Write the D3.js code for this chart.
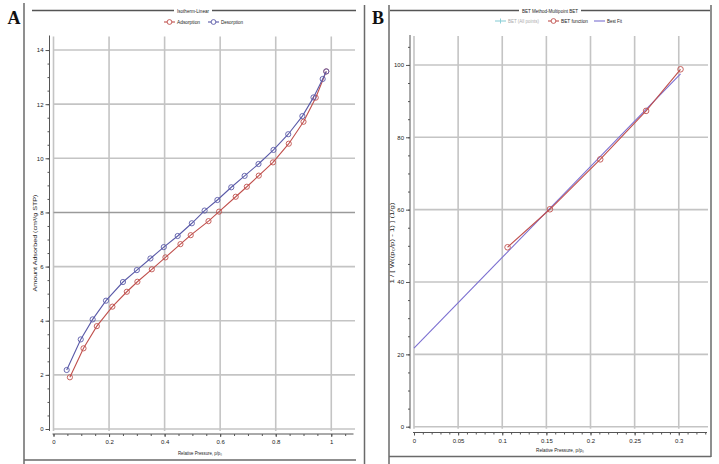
<!DOCTYPE html>
<html><head><meta charset="utf-8">
<script src="https://cdn.jsdelivr.net/npm/d3@7"></script>
<style>body{margin:0;background:#fff}svg{display:block}text{font-family:"Liberation Sans",Arial,sans-serif}</style>
</head><body><svg id="c" width="719" height="464"></svg>
<script>
// Panel A: isotherm
const adsP = [0.059,0.108,0.156,0.212,0.264,0.302,0.354,0.403,0.457,0.494,0.558,0.596,0.656,0.696,0.739,0.790,0.847,0.900,0.944,0.982];
const adsQ = [1.91,2.98,3.80,4.52,5.07,5.44,5.90,6.34,6.83,7.16,7.68,8.03,8.58,8.95,9.36,9.85,10.54,11.35,12.24,13.21];
const desP = [0.0475,0.098,0.141,0.189,0.250,0.300,0.349,0.397,0.447,0.498,0.544,0.590,0.640,0.688,0.738,0.792,0.845,0.896,0.936,0.969,0.982];
const desQ = [2.18,3.31,4.05,4.74,5.43,5.87,6.30,6.72,7.13,7.60,8.07,8.46,8.93,9.35,9.79,10.31,10.89,11.56,12.25,12.93,13.21];
const aXTicks = [0,0.2,0.4,0.6,0.8,1];
const aYTicks = [0,2,4,6,8,10,12,14];
// Panel B: BET
const betP = [0.106,0.154,0.211,0.263,0.302];
const betF = [49.6,60.1,73.9,87.3,98.8];
const fitP = [0,0.302];
const fitF = [21.7,97.5];
const bXTicks = [0,0.05,0.1,0.15,0.2,0.25,0.3];
const bYTicks = [0,20,40,60,80,100];

const svg = d3.select("#c");
svg.append("rect").attr("width",719).attr("height",464).attr("fill","#fff");
const RED="#c0504d", BLUE="#5a5aa8", FIT="#7b6fd0", GRID="#c4c4c4", FRAME="#6a6a6a";
const FONT="'Liberation Sans',Arial,sans-serif";

function line(x1,y1,x2,y2,c,w){svg.append("line").attr("x1",x1).attr("y1",y1).attr("x2",x2).attr("y2",y2).attr("stroke",c).attr("stroke-width",w);}
function txt(x,y,s,o={}){const t=svg.append("text").attr("x",x).attr("y",y).text(s).attr("font-size",o.size||6).attr("fill",o.fill||"#222").attr("text-anchor",o.anchor||"middle");if(o.weight)t.attr("font-weight",o.weight);t.style("font-family",o.family||FONT);if(o.len)t.attr("textLength",o.len).attr("lengthAdjust","spacingAndGlyphs");if(o.rot)t.attr("transform",`rotate(${o.rot},${x},${y})`);return t;}

// frames
line(24,3,24,464,FRAME,1.5);
line(24,460,356,460,FRAME,1.5);
line(364.5,5,364.5,464,FRAME,1.5);
line(389,5,389,464,FRAME,1.5);
line(389,456.5,711,456.5,FRAME,1.5);
line(711,5,711,457,FRAME,1.5);
txt(14,24,"A",{size:18,weight:"bold",family:"'Liberation Serif','Times New Roman',serif",fill:"#111"});
txt(378,24,"B",{size:18,weight:"bold",family:"'Liberation Serif','Times New Roman',serif",fill:"#111"});

function panel(cfg){
  const x=d3.scaleLinear().domain(cfg.xd).range(cfg.xr);
  const y=d3.scaleLinear().domain(cfg.yd).range(cfg.yr);
  // title bar
  txt(cfg.tx,12.5,cfg.title,{size:6,len:cfg.tw});
  line(cfg.tl,10.5,cfg.tx-cfg.tw/2-3,10.5,"#555",1.5);
  line(cfg.tx+cfg.tw/2+3,10.5,cfg.tr,10.5,"#555",1.5);
  // grid
  const g=svg.append("g");
  g.selectAll(".vg").data(cfg.xt).join("line").attr("x1",d=>x(d)).attr("x2",d=>x(d)).attr("y1",y.range()[1]).attr("y2",y(0)+2).attr("stroke",GRID).attr("stroke-width",1.6);
  g.selectAll(".hg").data(cfg.yt).join("line").attr("y1",d=>y(d)).attr("y2",d=>y(d)).attr("x1",x(0)).attr("x2",cfg.gr).attr("stroke",d=>d===cfg.dark?"#9a9a9a":GRID).attr("stroke-width",1.6);
  // y axis
  const ya=svg.append("g").attr("transform",`translate(${cfg.yax},0)`).call(d3.axisLeft(y).tickValues(d3.range(0,cfg.yd[1],cfg.ym)).tickSize(2).tickFormat(""));
  ya.select(".domain").remove();
  ya.selectAll("line").attr("stroke","#555");
  line(cfg.yax,y.range()[1]-1,cfg.yax,y(0)+2,"#555",1);
  const ya2=svg.append("g").attr("transform",`translate(${cfg.yax},0)`).call(d3.axisLeft(y).tickValues(cfg.yt).tickSize(4).tickPadding(2).tickFormat(d3.format("")));
  ya2.select(".domain").remove();
  ya2.selectAll("line").attr("stroke","#555");
  ya2.selectAll("text").attr("font-size",6).attr("fill","#222").style("font-family",FONT);
  // x axis
  const xa=svg.append("g").attr("transform",`translate(0,${cfg.xay})`).call(d3.axisBottom(x).tickValues(d3.range(0,cfg.xd[1],cfg.xm)).tickSize(2).tickFormat(""));
  xa.select(".domain").remove();
  xa.selectAll("line").attr("stroke","#555");
  line(x(0)-1,cfg.xay,x.range()[1],cfg.xay,"#555",1);
  const xa2=svg.append("g").attr("transform",`translate(0,${cfg.xay})`).call(d3.axisBottom(x).tickValues(cfg.xt).tickSize(3).tickPadding(3).tickFormat(d3.format("")));
  xa2.select(".domain").remove();
  xa2.selectAll("line").attr("stroke","#555");
  xa2.selectAll("text").attr("font-size",6).attr("fill","#222").style("font-family",FONT);
  txt(cfg.xtx,cfg.xty,cfg.xtitle,{size:6,len:cfg.xtw});
  txt(cfg.ytx,cfg.yty,cfg.ytitle,{size:6,rot:-90,len:cfg.ytw});
  return {x,y};
}

// Panel A
const A=panel({xd:[0,1.08],xr:[53.5,353.5],yd:[0,14.5],yr:[429,36.5],xt:aXTicks,yt:aYTicks,xm:0.05,ym:0.5,
  gr:355,yax:49.5,xay:434,title:"Isotherm-Linear",tx:193,tw:32,tl:32,tr:356,dark:8,
  xtitle:"Relative Pressure, p/p\u2080",xtx:200,xty:455,xtw:44,ytitle:"Amount Adsorbed (cm\u00b3/g STP)",ytx:37,yty:243,ytw:97});
function series(S,xs,ys,col,r){
  const pts=xs.map((v,i)=>[v,ys[i]]);
  svg.append("path").attr("d",d3.line().x(d=>S.x(d[0])).y(d=>S.y(d[1]))(pts)).attr("fill","none").attr("stroke",col).attr("stroke-width",1.1);
  svg.append("g").selectAll("circle").data(pts).join("circle").attr("cx",d=>S.x(d[0])).attr("cy",d=>S.y(d[1])).attr("r",r).attr("fill","none").attr("stroke",col).attr("stroke-width",0.9);
}
series(A,adsP,adsQ,RED,2.6);
series(A,desP,desQ,BLUE,2.6);
// legends
function legItem(x0,y0,col,label,mark,len,tcol){
  line(x0,y0,x0+11,y0,col,1.1);
  if(mark==="o") svg.append("circle").attr("cx",x0+5.5).attr("cy",y0).attr("r",2.4).attr("fill","#fff").attr("stroke",col).attr("stroke-width",0.9);
  if(mark==="+"){line(x0+5.5,y0-2.5,x0+5.5,y0+2.5,col,1);}
  txt(x0+13,y0+2,label,{size:6,anchor:"start",fill:tcol||"#222",len:len});
}
legItem(164,22,RED,"Adsorption","o",23);
legItem(208,22,BLUE,"Desorption","o",22);

// Panel B
const B=panel({xd:[0,0.332],xr:[414,707],yd:[0,108],yr:[426.7,36],xt:bXTicks,yt:bYTicks,xm:0.01,ym:5,
  gr:708,yax:410,xay:432.5,title:"BET Method-Multipoint BET",tx:550,tw:56,tl:390,tr:710,dark:null,
  xtitle:"Relative Pressure, p/p\u2080",xtx:560,xty:452,xtw:48,ytitle:"1 / [ W((p\u2080/p) - 1) ] (1/g)",ytx:394,yty:243,ytw:81});
svg.append("path").attr("d",d3.line().x(d=>B.x(d[0])).y(d=>B.y(d[1]))(fitP.map((v,i)=>[v,fitF[i]]))).attr("fill","none").attr("stroke",FIT).attr("stroke-width",1.1);
series(B,betP,betF,RED,2.8);
legItem(495,21,"#8fd0d8","BET (All points)","+",31,"#aaa");
legItem(548,21,RED,"BET function","o",27);
legItem(594,21,FIT,"Best Fit","",15);
</script></body></html>
